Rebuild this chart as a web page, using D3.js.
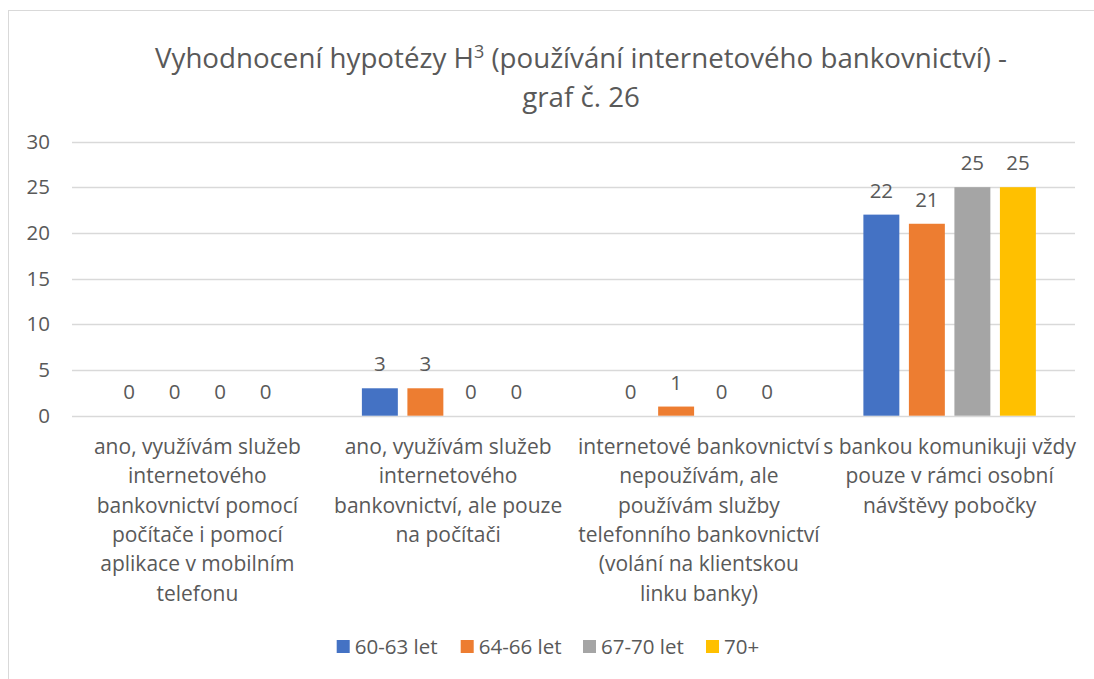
<!DOCTYPE html>
<html>
<head>
<meta charset="utf-8">
<script src="https://cdn.jsdelivr.net/npm/d3@7"></script>
<style>
  body { margin: 0; background: #fff; }
  svg { display: block; font-family: "Open Sans", sans-serif; }
</style>
</head>
<body>
<svg id="chart" width="1094" height="679"></svg>
<script>
const categories = [
  ["ano, využívám služeb", "internetového", "bankovnictví pomocí", "počítače i pomocí", "aplikace v mobilním", "telefonu"],
  ["ano, využívám služeb", "internetového", "bankovnictví, ale pouze", "na počítači"],
  ["internetové bankovnictví", "nepoužívám, ale", "používám služby", "telefonního bankovnictví", "(volání na klientskou", "linku banky)"],
  ["s bankou komunikuji vždy", "pouze v rámci osobní", "návštěvy pobočky"]
]
const seriesNames = ["60-63 let", "64-66 let", "67-70 let", "70+"]
const seriesColors = ["#4472C4", "#ED7D31", "#A5A5A5", "#FFC000"]
const values6063 = [0, 3, 0, 22]
const values6466 = [0, 3, 1, 21]
const values6770 = [0, 0, 0, 25]
const values70 = [0, 0, 0, 25]
const yTicks = [0, 5, 10, 15, 20, 25, 30]

const seriesValues = [values6063, values6466, values6770, values70]
const textColor = "#595959"

const svg = d3.select("#chart")

// chart border (cut off at right and bottom like the source)
svg.append("rect")
  .attr("x", 8.5).attr("y", 10.5)
  .attr("width", 1200).attr("height", 800)
  .attr("fill", "none").attr("stroke", "#D9D9D9").attr("stroke-width", 1)

// title
const title = svg.append("text")
  .attr("text-anchor", "middle")
  .attr("fill", textColor)
  .attr("font-size", 27.7)
title.append("tspan").attr("x", 581).attr("y", 68)
  .text("Vyhodnocení hypotézy H")
  .append("tspan").attr("font-size", 18).attr("dy", -10).text("3")
title.append("tspan").attr("dy", 10)
  .text(" (používání internetového bankovnictví) -")
title.append("tspan").attr("x", 581).attr("y", 107).text("graf č. 26")

const left = 72, right = 1075
const x = d3.scaleBand().domain(d3.range(categories.length)).range([left, right])
const xs = d3.scaleBand().domain(d3.range(seriesNames.length))
  .range([0, x.bandwidth()]).paddingInner(0.21).paddingOuter(0.86)
const y = d3.scaleLinear().domain([0, 30]).range([415.7, 141.5])

// gridlines
svg.append("g").selectAll("line")
  .data(yTicks).enter().append("line")
  .attr("x1", left).attr("x2", right)
  .attr("y1", (d) => Math.round(y(d)) + 0.5)
  .attr("y2", (d) => Math.round(y(d)) + 0.5)
  .attr("stroke", "#D9D9D9").attr("stroke-width", 1.5)

// y axis labels
const yAxis = svg.append("g")
  .attr("transform", `translate(${left},0)`)
  .call(d3.axisLeft(y).tickValues(yTicks).tickSize(0).tickPadding(22))
yAxis.select(".domain").remove()
yAxis.selectAll("text")
  .attr("fill", textColor)
  .attr("font-size", 20.5)
  .attr("font-family", "Open Sans, sans-serif")

// bars
seriesValues.forEach((vals, s) => {
  const g = svg.append("g")
  g.selectAll("rect").data(vals).enter().append("rect")
    .attr("x", (d, i) => x(i) + xs(s))
    .attr("width", xs.bandwidth())
    .attr("y", (d) => y(d))
    .attr("height", (d) => y(0) - y(d))
    .attr("fill", seriesColors[s])
  g.selectAll("text").data(vals).enter().append("text")
    .attr("x", (d, i) => x(i) + xs(s) + xs.bandwidth() / 2)
    .attr("y", (d) => y(d) - 17)
    .attr("text-anchor", "middle")
    .attr("fill", textColor)
    .attr("font-size", 20.5)
    .text((d) => d)
})

// category labels
categories.forEach((lines, i) => {
  const t = svg.append("text")
    .attr("text-anchor", "middle")
    .attr("fill", textColor)
    .attr("font-size", 21)
  lines.forEach((line, j) => {
    t.append("tspan")
      .attr("x", x(i) + x.bandwidth() / 2)
      .attr("y", 454 + j * 29.3)
      .text(line)
  })
})

// legend
const legendX = [336.7, 460.7, 583, 706]
const legend = svg.append("g")
seriesNames.forEach((name, s) => {
  legend.append("rect")
    .attr("x", legendX[s]).attr("y", 640)
    .attr("width", 13).attr("height", 13)
    .attr("fill", seriesColors[s])
  legend.append("text")
    .attr("x", legendX[s] + 18).attr("y", 654)
    .attr("fill", textColor)
    .attr("font-size", 20.5)
    .text(name)
})
</script>
</body>
</html>
